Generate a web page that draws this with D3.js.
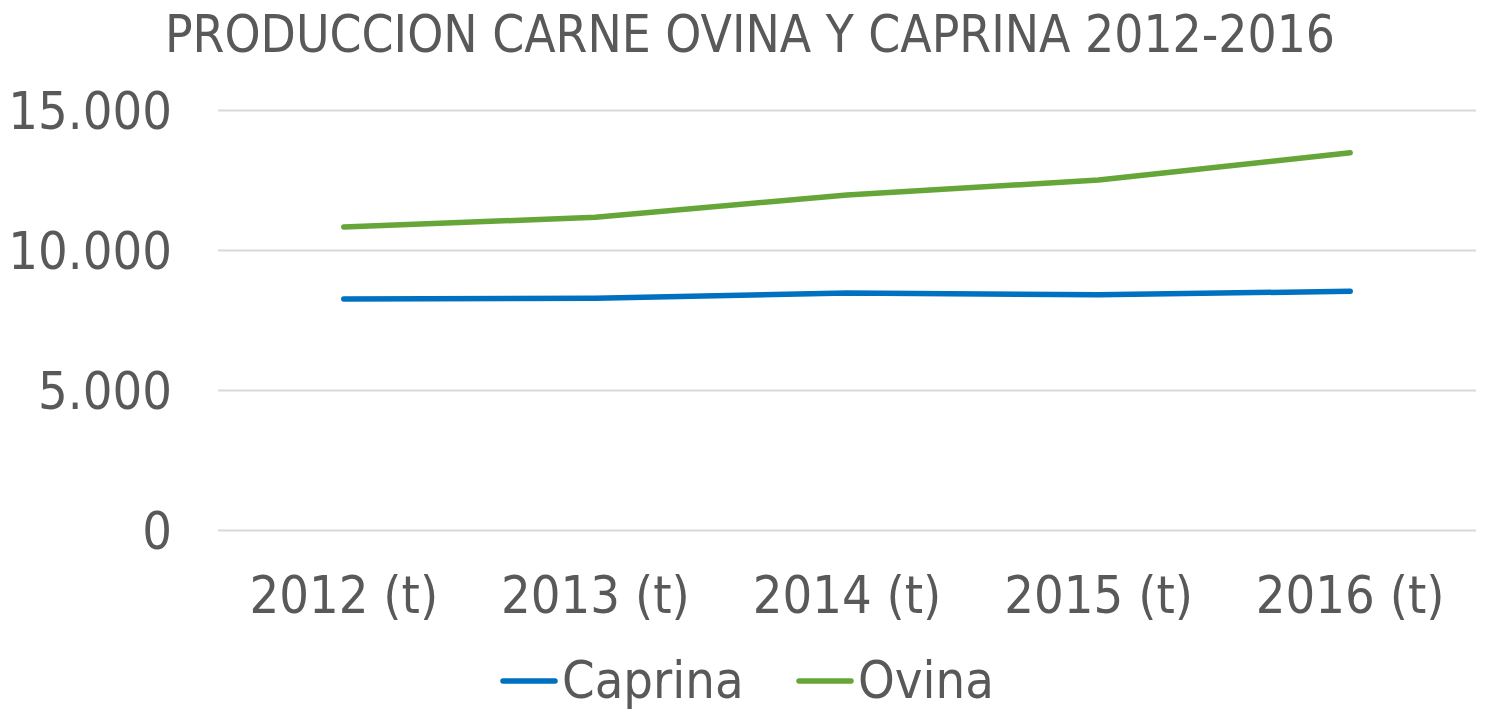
<!DOCTYPE html>
<html>
<head>
<meta charset="utf-8">
<script src="https://cdn.jsdelivr.net/npm/d3@7"></script>
<style>
  body { margin: 0; background: #fff; }
  text { font-family: "DejaVu Sans Condensed", "DejaVu Sans", sans-serif; fill: #595959; }
</style>
</head>
<body>
<svg id="chart" width="1485" height="714"></svg>
<script>
// datos (toneladas)
var years = ["2012 (t)", "2013 (t)", "2014 (t)", "2015 (t)", "2016 (t)"]
var caprina = [8250, 8275, 8464, 8404, 8525]
var ovina = [10821, 11168, 11964, 12500, 13475]
var yTicks = [0, 5000, 10000, 15000]

var series = [
    { name: "Caprina", values: caprina, color: "#0070c0" },
    { name: "Ovina", values: ovina, color: "#66a538" }
]

var svg = d3.select("#chart")
var fs = 52

var x = d3.scaleBand().domain(years).range([218, 1476])
var y = d3.scaleLinear().domain([0, 15000]).range([530, 110])

svg.append("text")
    .attr("x", 750)
    .attr("y", 52)
    .attr("text-anchor", "middle")
    .attr("font-size", 51)
    .text("PRODUCCION CARNE OVINA Y CAPRINA 2012-2016")

// rejilla
var fmt = function (d) {
    return d3.format(",")(d).replace(/,/g, ".")
}
var yAxis = svg.append("g")
    .attr("transform", "translate(218,0)")
    .call(d3.axisLeft(y).tickValues(yTicks).tickSize(-1258).tickPadding(46).tickFormat(fmt))
yAxis.select(".domain").remove()
yAxis.selectAll("line").attr("stroke", "#d9d9d9").attr("stroke-width", 2)
yAxis.selectAll("text")
    .attr("font-size", fs)
    .attr("fill", "#595959")
    .attr("font-family", null)
    .attr("dy", "0.36em")

var xAxis = svg.append("g")
    .attr("transform", "translate(0,530)")
    .call(d3.axisBottom(x).tickSize(0).tickPadding(0))
xAxis.select(".domain").remove()
xAxis.selectAll("text")
    .attr("font-size", fs)
    .attr("fill", "#595959")
    .attr("font-family", null)
    .attr("y", 83)
    .attr("dy", null)

var line = d3.line()
    .x(function (d, i) { return x(years[i]) + x.bandwidth() / 2 })
    .y(function (d) { return y(d) })

svg.selectAll(".serie")
    .data(series)
    .enter()
    .append("path")
    .attr("class", "serie")
    .attr("fill", "none")
    .attr("stroke", function (d) { return d.color })
    .attr("stroke-width", 5.5)
    .attr("stroke-linecap", "round")
    .attr("stroke-linejoin", "round")
    .attr("d", function (d) { return line(d.values) })

// leyenda
var legendX = [501, 797]
var leg = svg.selectAll(".leg")
    .data(series)
    .enter()
    .append("g")
    .attr("class", "leg")
    .attr("transform", function (d, i) { return "translate(" + legendX[i] + ",681)" })
leg.append("line")
    .attr("x1", 2).attr("x2", 54)
    .attr("stroke", function (d) { return d.color })
    .attr("stroke-width", 5.5)
    .attr("stroke-linecap", "round")
leg.append("text")
    .attr("x", 61)
    .attr("y", 17)
    .attr("font-size", fs)
    .text(function (d) { return d.name })
</script>
</body>
</html>
